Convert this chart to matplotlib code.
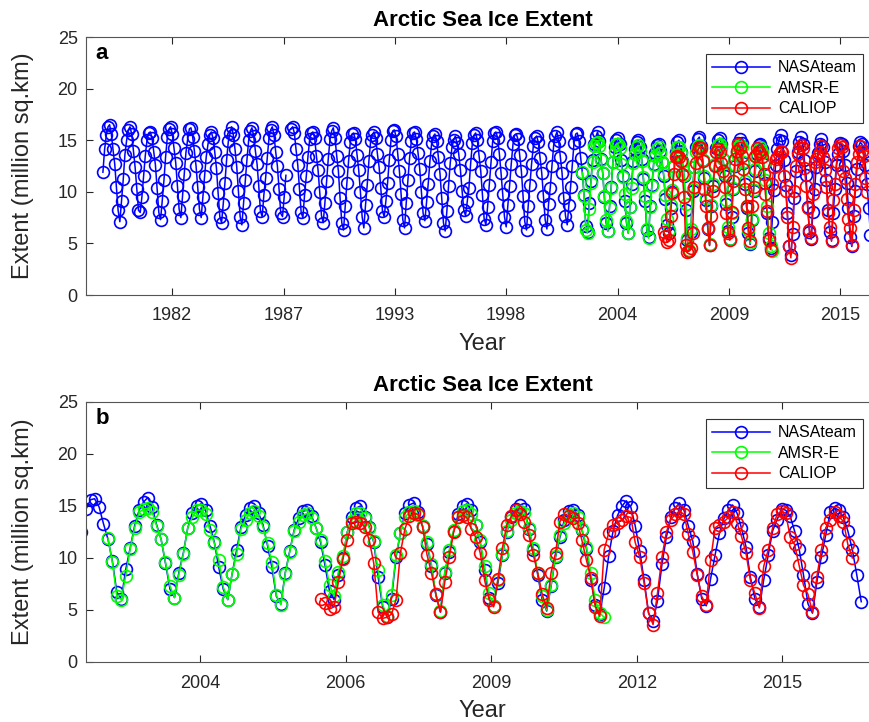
import numpy as np
import pandas as pd
import matplotlib
matplotlib.use("Agg")
import matplotlib.pyplot as plt

nan = np.nan
# ---------------- data (monthly extent, million sq.km) ----------------
nasa_1978 = [11.9, 14.1]  # Nov, Dec
nasa_1979 = [15.5, 16.3, 16.5, 15.6, 14.1, 12.7, 10.5, 8.2, 7.1, 9.1, 11.2, 13.6]
nasa_1980 = [15.0, 16.0, 16.3, 15.6, 14.0, 12.4, 10.3, 8.2, 8.0, 9.5, 11.5, 13.5]
nasa_1981 = [15.0, 15.7, 15.8, 15.2, 13.9, 12.6, 10.4, 8.0, 7.3, 9.1, 11.1, 13.4]
nasa_1982 = [15.3, 16.1, 16.3, 15.6, 14.2, 12.8, 10.6, 8.3, 7.5, 9.6, 11.7, 13.8]
nasa_1983 = [15.1, 16.1, 16.2, 15.3, 14.0, 12.5, 10.5, 8.3, 7.5, 9.5, 11.5, 13.4]
nasa_1984 = [14.6, 15.5, 15.8, 15.2, 13.9, 12.3, 9.9, 7.6, 7.0, 8.8, 10.9, 13.1]
nasa_1985 = [14.9, 15.7, 16.3, 15.5, 14.1, 12.4, 10.1, 7.6, 6.8, 8.9, 11.1, 13.1]
nasa_1986 = [15.0, 15.9, 16.2, 15.4, 14.0, 12.7, 10.6, 8.1, 7.6, 9.7, 11.3, 13.3]
nasa_1987 = [15.2, 16.0, 16.3, 15.5, 13.9, 12.5, 10.3, 7.9, 7.6, 9.5, 11.6, nan]
nasa_1988 = [nan, 16.1, 16.3, 15.7, 14.1, 12.6, 10.3, 8.0, 7.5, 9.7, 11.5, 13.4]
nasa_1989 = [15.1, 15.7, 15.8, 15.2, 13.5, 12.1, 10.0, 7.7, 7.0, 8.9, 11.0, 13.2]
nasa_1990 = [15.1, 15.9, 16.2, 15.2, 13.5, 12.0, 9.4, 7.0, 6.3, 8.6, 10.9, 13.0]
nasa_1991 = [14.8, 15.6, 15.7, 15.1, 13.6, 12.1, 10.0, 7.6, 6.5, 8.7, 10.7, 13.0]
nasa_1992 = [14.9, 15.5, 15.8, 15.2, 13.7, 12.4, 10.4, 8.1, 7.6, 9.1, 10.9, 13.1]
nasa_1993 = [15.0, 15.9, 16.0, 15.4, 13.7, 12.0, 9.8, 7.3, 6.5, 8.9, 11.1, 13.3]
nasa_1994 = [14.9, 15.7, 15.8, 15.1, 13.8, 12.2, 10.0, 7.9, 7.2, 9.0, 10.8, 13.0]
nasa_1995 = [14.7, 15.4, 15.6, 14.9, 13.4, 11.7, 9.4, 7.0, 6.2, 8.1, 10.6, 12.8]
nasa_1996 = [14.3, 15.0, 15.4, 14.7, 13.7, 12.1, 10.1, 8.2, 7.7, 9.0, 10.4, 12.7]
nasa_1997 = [14.7, 15.5, 15.7, 15.0, 13.5, 12.0, 9.7, 7.4, 6.8, 8.5, 10.7, 12.9]
nasa_1998 = [14.9, 15.7, 15.8, 15.2, 13.7, 11.8, 9.8, 7.6, 6.6, 8.7, 10.6, 12.7]
nasa_1999 = [14.6, 15.5, 15.6, 15.1, 13.6, 12.0, 9.6, 7.1, 6.3, 8.6, 10.7, 12.7]
nasa_2000 = [14.4, 15.2, 15.4, 14.8, 13.3, 11.8, 9.6, 7.3, 6.4, 8.8, 10.4, 12.5]
nasa_2001 = [14.5, 15.4, 15.8, 14.9, 13.4, 11.8, 9.4, 7.7, 6.8, 8.7, 10.5, 12.5]
nasa_2002 = [14.7, 15.6, 15.7, 14.9, 13.3, 11.8, 9.7, 6.7, 6.1, 8.9, 11.0, 13.1]
nasa_2003 = [14.6, 15.4, 15.8, 14.9, 13.2, 11.8, 9.5, 7.0, 6.2, 8.6, 10.5, 12.9]
nasa_2004 = [14.3, 15.0, 15.2, 14.6, 13.1, 11.5, 9.1, 7.0, 6.0, 8.5, 10.8, 13.0]
nasa_2005 = [14.1, 14.8, 15.0, 14.3, 13.2, 11.2, 9.1, 6.3, 5.6, 8.6, 10.7, 12.7]
nasa_2006 = [13.8, 14.5, 14.6, 14.0, 12.9, 11.5, 9.3, 6.8, 6.0, 8.4, 10.0, 12.5]
nasa_2007 = [13.9, 14.8, 15.0, 13.9, 13.0, 11.5, 8.2, 5.3, 4.3, 6.1, 10.1, 12.4]
nasa_2008 = [14.3, 15.1, 15.3, 14.4, 13.1, 11.3, 9.2, 6.4, 4.8, 8.6, 10.6, 12.6]
nasa_2009 = [14.2, 15.0, 15.2, 14.6, 13.2, 11.5, 8.8, 6.2, 5.4, 7.6, 10.3, 12.5]
nasa_2010 = [13.9, 14.7, 15.1, 14.7, 12.8, 10.8, 8.4, 6.0, 4.9, 7.3, 10.1, 12.0]
nasa_2011 = [13.7, 14.5, 14.6, 14.1, 12.7, 10.9, 7.9, 5.5, 4.6, 7.1, 10.2, 12.6]
nasa_2012 = [14.1, 15.0, 15.5, 14.9, 13.1, 10.7, 7.9, 4.7, 3.9, 5.9, 9.4, 12.0]
nasa_2013 = [13.9, 14.8, 15.3, 14.6, 13.1, 11.6, 8.5, 6.1, 5.4, 8.0, 10.3, 12.4]
nasa_2014 = [13.8, 14.6, 15.1, 14.3, 12.9, 11.1, 8.2, 6.1, 5.3, 7.9, 10.3, 12.6]
nasa_2015 = [13.7, 14.7, 14.6, 14.0, 12.6, 10.9, 8.4, 5.6, 4.7, 7.7, 10.1, 12.2]
nasa_2016 = [14.4, 14.8, 14.6, 13.9, 12.6, 10.8, 8.4, 5.8]

amsr_2002 = [11.9, 9.6, 6.3, 6.0, 8.3, 10.9, 12.9]  # Jun-Dec
amsr_2003 = [14.4, 14.7, 14.8, 14.4, 13.1, 11.8, 9.6, 7.3, 6.2, 8.4, 10.4, 12.9]
amsr_2004 = [13.9, 14.6, 14.6, 14.2, 12.7, 11.4, 9.8, 7.2, 6.0, 8.5, 10.4, 12.8]
amsr_2005 = [13.7, 14.3, 14.5, 14.0, 13.0, 11.4, 9.6, 6.4, 5.5, 8.5, 10.6, 12.6]
amsr_2006 = [13.5, 14.1, 14.3, 13.8, 12.9, 11.7, 9.7, 7.4, 6.3, 8.7, 10.2, 12.5]
amsr_2007 = [13.6, 14.3, 14.3, 13.8, 12.9, 11.6, 8.8, 5.5, 4.4, 6.4, 10.3, 12.4]
amsr_2008 = [13.9, 14.4, 14.5, 14.1, 13.1, 11.5, 9.4, 6.5, 4.9, 8.7, 10.8, 12.7]
amsr_2009 = [13.9, 14.5, 14.6, 14.2, 13.2, 11.7, 9.2, 6.6, 5.4, 7.9, 10.4, 12.6]
amsr_2010 = [13.7, 14.3, 14.5, 14.3, 12.9, 11.0, 8.6, 6.3, 5.0, 7.4, 10.2, 12.2]
amsr_2011 = [13.4, 14.1, 14.3, 13.9, 12.8, 11.1, 8.6, 6.0, 4.7, 4.3]  # Jan-Oct

cal_2006 = [6.1, 5.7, 5.1, 5.3, 7.7, 9.9, 11.7]  # Jun-Dec
cal_2007 = [13.4, 13.5, 13.4, 13.0, 11.7, 9.5, 4.8, 4.2, 4.3, 4.6, 6.0, 10.5]
cal_2008 = [12.8, 14.0, 14.3, 14.2, 13.0, 10.3, 8.6, 6.5, 4.8, 7.7, 10.1, 12.5]
cal_2009 = [13.9, 14.1, 13.9, 12.8, 12.0, 10.5, 7.9, 6.0, 5.3, 8.0, 11.0, 13.2]
cal_2010 = [14.0, 14.6, 14.2, 13.5, 12.2, 10.3, 8.6, 6.5, 5.2, 8.6, 10.5, 13.5]
cal_2011 = [14.2, 14.0, 13.8, 13.4, 11.7, 9.8, 8.1, 5.3, 4.4, 10.8, 12.4, 13.2]
cal_2012 = [13.4, 13.7, 14.0, 13.9, 11.5, 10.1, 7.6, 4.7, 3.6, 6.6, 10.1, 12.5]
cal_2013 = [13.7, 14.2, 14.5, 14.2, 12.3, 10.6, 8.4, 6.3, 5.5, 9.8, 12.9, 13.2]
cal_2014 = [13.5, 13.9, 14.4, 13.4, 12.1, 10.5, 7.9, 6.6, 5.2, 9.2, 10.8, 12.9]
cal_2015 = [14.2, 14.5, 14.3, 12.0, 11.3, 9.3, 7.4, 6.5, 4.8, 8.2, 10.8, 12.9]
cal_2016 = [13.7, 14.4, 14.0, 13.5, 11.3, 10.0]  # Jan-Jun

series_names = ["NASAteam", "AMSR-E", "CALIOP"]
series_colors = ["#0000ff", "#00ff00", "#ff0000"]
tick_years_a = [1982, 1987, 1993, 1998, 2004, 2009, 2015]
tick_dates_a = ["1982-03-29", "1987-09-19", "1993-03-12", "1998-09-02",
                "2004-02-24", "2009-08-16", "2015-02-06"]
tick_years_b = [2004, 2006, 2009, 2012, 2015]
tick_dates_b = ["2004-02-24", "2006-11-20", "2009-08-16", "2012-05-12", "2015-02-06"]

nasa = (nasa_1978 + nasa_1979 + nasa_1980 + nasa_1981 + nasa_1982 + nasa_1983 + nasa_1984
        + nasa_1985 + nasa_1986 + nasa_1987 + nasa_1988 + nasa_1989 + nasa_1990 + nasa_1991
        + nasa_1992 + nasa_1993 + nasa_1994 + nasa_1995 + nasa_1996 + nasa_1997 + nasa_1998
        + nasa_1999 + nasa_2000 + nasa_2001 + nasa_2002 + nasa_2003 + nasa_2004 + nasa_2005
        + nasa_2006 + nasa_2007 + nasa_2008 + nasa_2009 + nasa_2010 + nasa_2011 + nasa_2012
        + nasa_2013 + nasa_2014 + nasa_2015 + nasa_2016)
amsr = (amsr_2002 + amsr_2003 + amsr_2004 + amsr_2005 + amsr_2006 + amsr_2007 + amsr_2008
        + amsr_2009 + amsr_2010 + amsr_2011)
cal = (cal_2006 + cal_2007 + cal_2008 + cal_2009 + cal_2010 + cal_2011 + cal_2012
       + cal_2013 + cal_2014 + cal_2015 + cal_2016)

nasa_t = pd.date_range("1978-11-01", periods=len(nasa), freq="MS")
amsr_t = pd.date_range("2002-06-01", periods=len(amsr), freq="MS")
cal_t = pd.date_range("2006-06-01", periods=len(cal), freq="MS")
all_series = [(nasa_t, nasa), (amsr_t, amsr), (cal_t, cal)]

# ---------------- figure ----------------
plt.rcParams["font.family"] = ["Liberation Sans", "DejaVu Sans"]
fig = plt.figure(figsize=(8.69, 7.22), dpi=100)
W, H = 869.0, 722.0
gray = "#262626"

def make_axes(top_px, bottom_px, xlim, tdates, tyears, label):
    ax = fig.add_axes([86 / W, (H - bottom_px) / H, (879 - 86) / W, (bottom_px - top_px) / H])
    for (t, v), name, c in zip(all_series, series_names, series_colors):
        ax.plot(t, v, "-o", color=c, lw=1.1, ms=8.5, mfc="none", mec=c, mew=1.2, label=name)
    ax.set_xlim(pd.Timestamp(xlim[0]), pd.Timestamp(xlim[1]))
    ax.set_ylim(0, 25)
    ax.set_yticks([0, 5, 10, 15, 20, 25])
    ax.set_xticks([pd.Timestamp(d) for d in tdates])
    ax.set_xticklabels([str(y) for y in tyears])
    ax.tick_params(direction="in", length=5, width=0.8, colors=gray, labelsize=13,
                   top=True, right=True)
    ax.tick_params(axis="x", pad=9)
    ax.tick_params(axis="y", pad=6)
    for s in ax.spines.values():
        s.set_color("#555555")
        s.set_linewidth(0.8)
    ax.set_title("Arctic Sea Ice Extent", fontsize=16, fontweight="bold", pad=8)
    ax.set_xlabel("Year", fontsize=17, color=gray, labelpad=6)
    ax.set_ylabel("Extent (million sq.km)", fontsize=17, color=gray)
    ax.yaxis.set_label_coords(-0.066, 0.5)
    ax.text(0.012, 0.935, label, transform=ax.transAxes, fontsize=16, fontweight="bold",
            va="center", ha="left")
    leg = ax.legend(loc="upper right", bbox_to_anchor=(0.98, 0.935), borderaxespad=0,
                    fontsize=11.5, handlelength=3.6, fancybox=False, framealpha=1,
                    edgecolor="#333333", borderpad=0.4, labelspacing=0.35, handletextpad=0.5)
    leg.get_frame().set_linewidth(0.8)
    return ax

make_axes(37, 295, ("1978-01-01", "2017-01-01"), tick_dates_a, tick_years_a, "a")
make_axes(402, 662, ("2002-01-01", "2016-12-01"), tick_dates_b, tick_years_b, "b")

fig.savefig("out.png", dpi=100)
